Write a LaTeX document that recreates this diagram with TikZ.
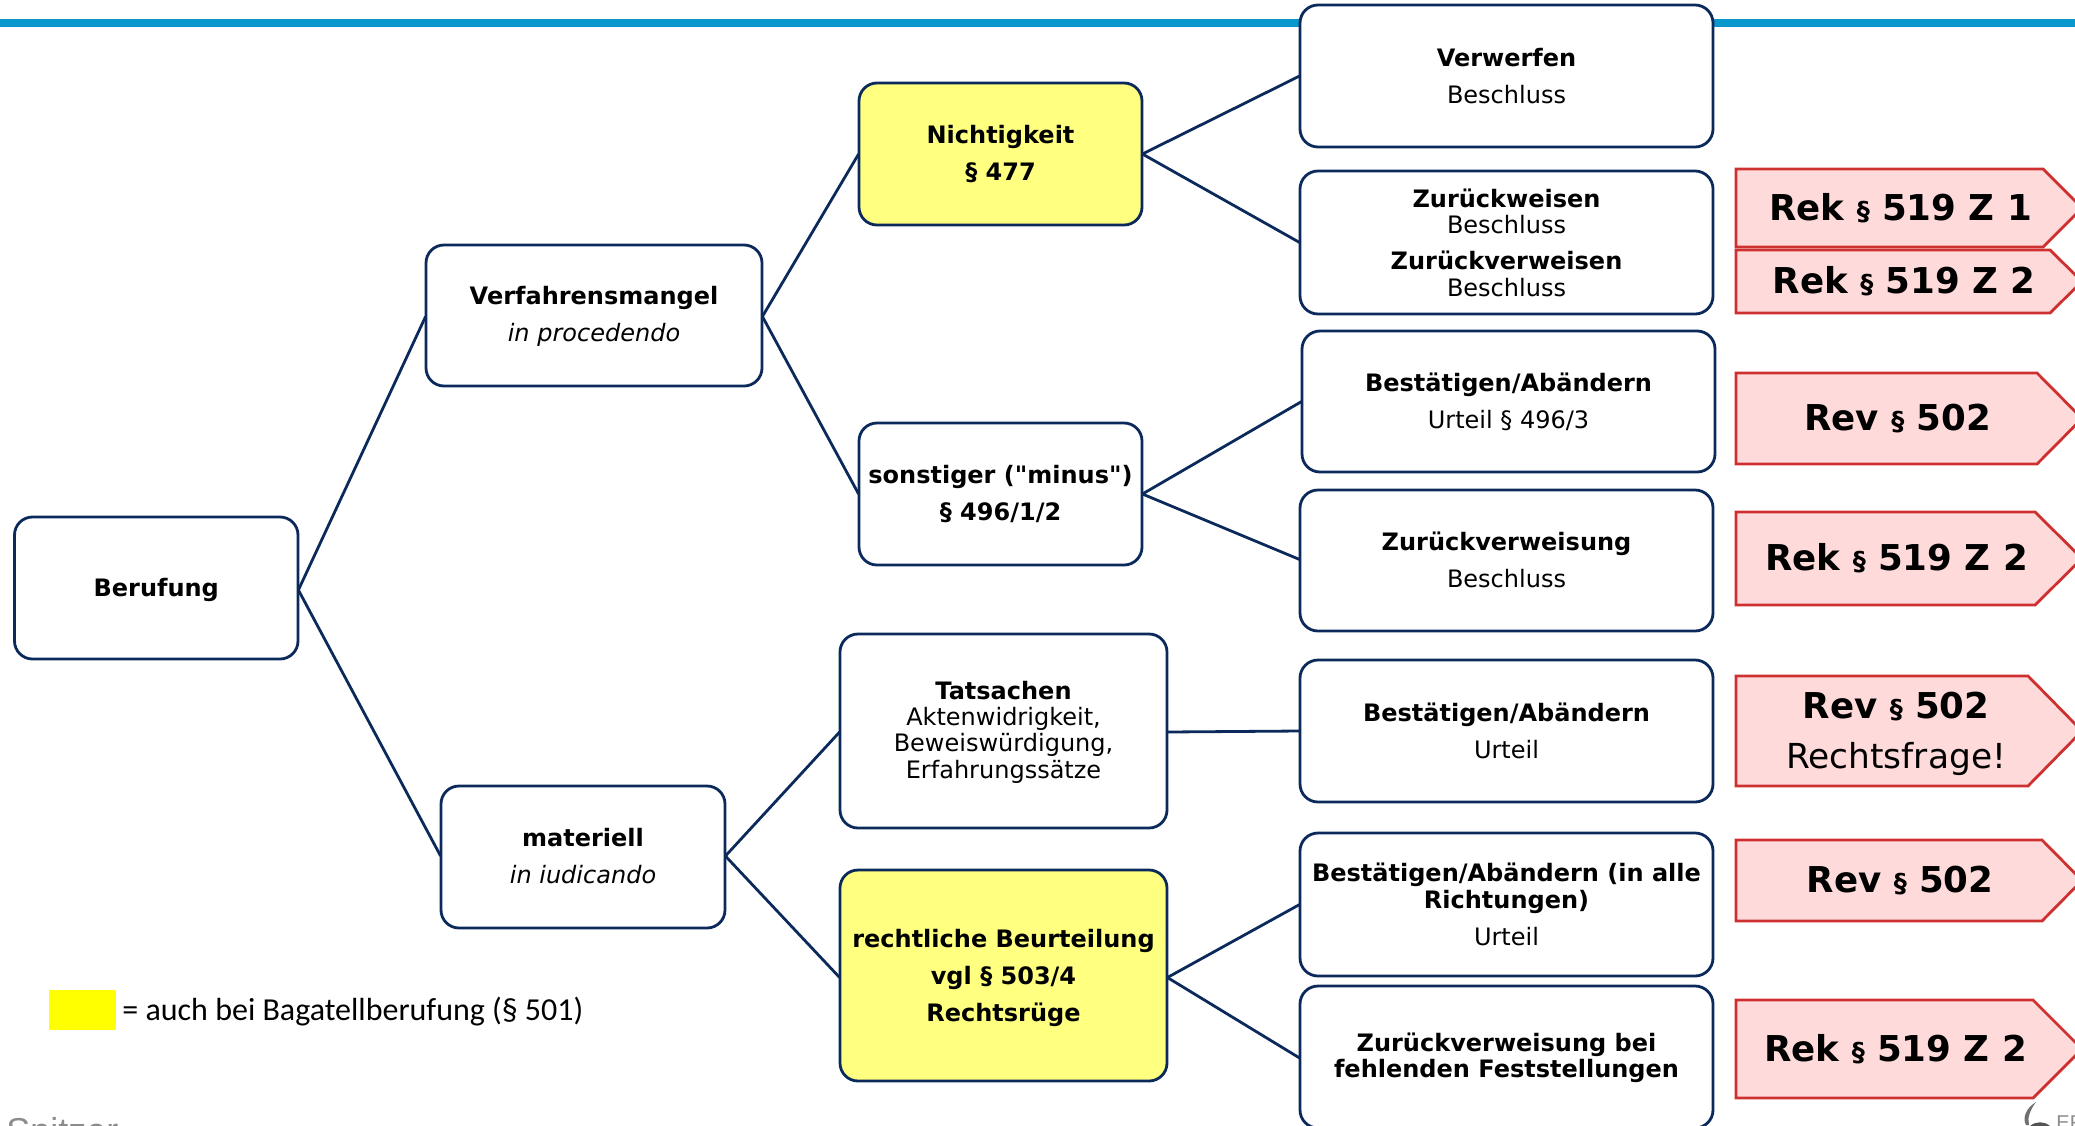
\documentclass[tikz,border=0pt]{standalone}
\usepackage{fontspec}
\setmainfont{DejaVu Sans}
\newfontfamily\calib{Carlito}
\newfontfamily\arialish{Liberation Sans}
\newfontfamily\rawquote{DejaVu Sans}
\definecolor{navy}{HTML}{0B2A5B}
\definecolor{softyellow}{HTML}{FFFF80}
\definecolor{softred}{HTML}{FFDADA}
\definecolor{redline}{HTML}{CE3030}
\definecolor{topblue}{HTML}{0A97CC}
\definecolor{pureyellow}{HTML}{FFFF00}
\definecolor{footgray}{HTML}{8C8C8C}
\newcommand{\boxnode}[8][0]{% [dy], name, x1, y1, x2, y2, extra style, text
  \path[boxshape,#7] (#3,-#4) rectangle (#5,-#6);
  \node[boxtext] (#2) at ({(#3+#5)/2},{-(#4+#6)/2-#1}) [minimum width={(#5-#3)*0.5pt},minimum height={(#6-#4)*0.5pt}] {#8};}
\newcommand{\penta}[8][0]{% [dxy], name, x1, y1, y2, shoulder, tipx, text
  \path[pentashape] (#3,-#4) -- (#6,-#4) -- (#7,{-(#4+#5)/2}) -- (#6,-#5) -- (#3,-#5) -- cycle;
  \node[pentatext] (#2) at ({(#3+#6)/2+11+#1},{-(#4+#5)/2-#1}) {#8};}
\newcommand{\para}{{\fontsize{13}{15}\selectfont§}}
\newcommand{\qq}{{\rawquote\bfseries\char34}}
\tikzset{
  x=0.5pt,y=0.5pt,
  boxshape/.style={draw=navy,line width=1.4pt,rounded corners=9pt,fill=white},
  boxtext/.style={inner sep=0pt,align=center,font=\fontsize{12}{13.2}\selectfont},
  pentashape/.style={draw=redline,line width=1.4pt,fill=softred},
  pentatext/.style={inner sep=0pt,align=center,font=\fontsize{17.8}{21}\selectfont},
  link/.style={draw=navy,line width=1.4pt},
}
\begin{document}
\begin{tikzpicture}
\useasboundingbox (0,-1125) rectangle (2075,0);
\begin{scope}
\clip (0,-1125) rectangle (2075,0);
\fill[topblue] (0,-19) rectangle (2075,-27);
\boxnode[2]{ber}{14.5}{517}{298}{659}{}{\textbf{Berufung}}
\boxnode[1]{ver}{426}{245}{762}{386}{}{\textbf{Verfahrensmangel}\\[5.3pt]\textit{in procedendo}}
\boxnode[-1]{mat}{441}{786}{725}{928}{}{\textbf{materiell}\\[5.3pt]\textit{in iudicando}}
\boxnode{nic}{859}{83}{1142}{225}{fill=softyellow}{\textbf{Nichtigkeit}\\[5.3pt]\textbf{§ 477}}
\boxnode{son}{859}{423}{1142}{565}{}{\textbf{sonstiger (\qq minus\qq)}\\[5.3pt]\textbf{§ 496/1/2}}
\boxnode[1]{tat}{840}{634}{1167}{828}{}{\textbf{Tatsachen}\\Aktenwidrigkeit,\\Beweiswürdigung,\\Erfahrungssätze}
\boxnode[2]{rec}{840}{870}{1167}{1081}{fill=softyellow}{\textbf{rechtliche Beurteilung}\\[5.3pt]\textbf{vgl § 503/4}\\[5.3pt]\textbf{Rechtsrüge}}
\boxnode{vw}{1300}{5}{1713}{147}{}{\textbf{Verwerfen}\\[5.3pt]Beschluss}
\boxnode{zu}{1300}{171}{1713}{314}{}{\textbf{Zurückweisen}\\Beschluss\\[5pt]\textbf{Zurückverweisen}\\Beschluss}
\boxnode{ba}{1302}{331}{1715}{472}{}{\textbf{Bestätigen/Abändern}\\[5.3pt]Urteil § 496/3}
\boxnode[-1]{zv}{1300}{490}{1713}{631}{}{\textbf{Zurückverweisung}\\[5.3pt]Beschluss}
\boxnode{bb}{1300}{660}{1713}{802}{}{\textbf{Bestätigen/Abändern}\\[5.3pt]Urteil}
\boxnode{bc}{1300}{833}{1713}{976}{}{\textbf{Bestätigen/Abändern (in alle}\\\textbf{Richtungen)}\\[5.3pt]Urteil}
\boxnode[1]{zf}{1300}{986}{1713}{1128}{}{\textbf{Zurückverweisung bei}\\\textbf{fehlenden Feststellungen}}
\draw[link] (ber.east) -- (ver.west);
\draw[link] (ber.east) -- (mat.west);
\draw[link] (ver.east) -- (nic.west);
\draw[link] (ver.east) -- (son.west);
\draw[link] (mat.east) -- (tat.west);
\draw[link] (mat.east) -- (rec.west);
\draw[link] (nic.east) -- (vw.west);
\draw[link] (nic.east) -- (zu.west);
\draw[link] (son.east) -- (ba.west);
\draw[link] (son.east) -- (zv.west);
\draw[link] (tat.east) -- (bb.west);
\draw[link] (rec.east) -- (bc.west);
\draw[link] (rec.east) -- (zf.west);
\penta{p1}{1736}{169}{247}{2043}{2082}{\textbf{Rek \para{} 519 Z 1}}
\penta{p2}{1736}{250}{313}{2050}{2082}{\textbf{Rek \para{} 519 Z 2}}
\penta{p3}{1736}{373}{464}{2037}{2082}{\textbf{Rev \para{} 502}}
\penta{p4}{1736}{512}{605}{2035}{2082}{\textbf{Rek \para{} 519 Z 2}}
\penta[3]{p5}{1736}{676}{786}{2028}{2082}{\textbf{Rev \para{} 502}\\[4pt]{\fontsize{17.2}{20}\selectfont Rechtsfrage!}}
\penta{p6}{1736}{840}{921}{2042}{2082}{\textbf{Rev \para{} 502}}
\penta{p7}{1736}{1000}{1098}{2033}{2082}{\textbf{Rek \para{} 519 Z 2}}
\fill[pureyellow] (49,-990) rectangle (116,-1030);
\node[anchor=west,inner sep=0pt,font=\calib\fontsize{16}{18}\selectfont] (leg) at (122,-1012) {= auch bei Bagatellberufung (§ 501)};
\node[anchor=base west,inner sep=0pt,text=footgray,font=\arialish\fontsize{18}{20}\selectfont] (spitzer) at (6,-1143) {Spitzer};
\node[anchor=base west,inner sep=0pt,text=footgray,font=\arialish\fontsize{10}{12}\selectfont] (efm) at (2056,-1129) {EFM};
\fill[footgray!80!black] (2036,-1102) .. controls (2026,-1108) and (2022,-1118) .. (2026,-1125) -- (2029,-1125) .. controls (2027,-1118) and (2030,-1110) .. (2036,-1102) -- cycle;
\fill[footgray!60!black] (2030,-1126) .. controls (2036,-1121) and (2044,-1121) .. (2050,-1126) -- cycle;
\end{scope}
\end{tikzpicture}
\end{document}
